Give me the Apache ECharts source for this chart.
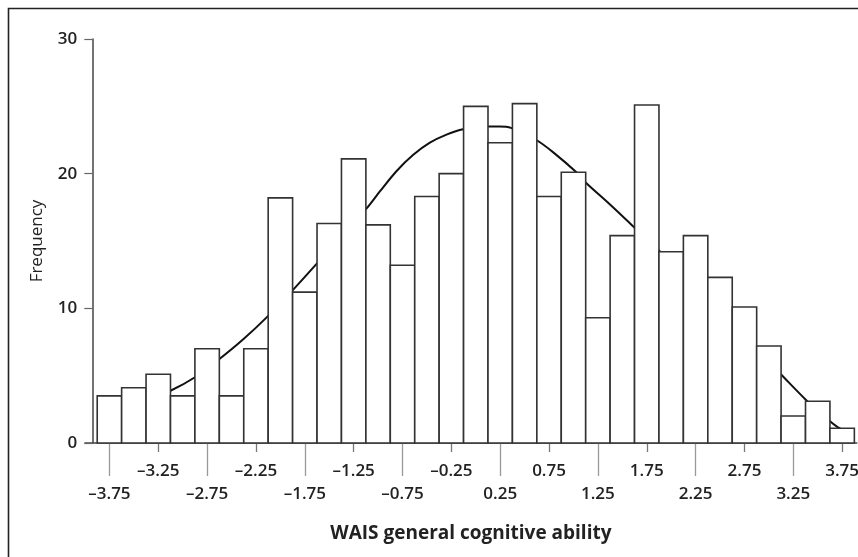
<!DOCTYPE html>
<html>
<head>
<meta charset="utf-8">
<script src="https://cdn.jsdelivr.net/npm/echarts@6/dist/echarts.min.js"></script>
<style>
  html, body { margin: 0; padding: 0; background: #fff; }
  #chart { width: 858px; height: 557px; }
</style>
</head>
<body>
<div id="chart"></div>
<script>
// Histogram bins (centre of each 0.25-wide bin) and their frequencies
const binCenters = [-3.75, -3.5, -3.25, -3.0, -2.75, -2.5, -2.25, -2.0, -1.75, -1.5, -1.25,
  -1.0, -0.75, -0.5, -0.25, 0.0, 0.25, 0.5, 0.75, 1.0, 1.25, 1.5, 1.75, 2.0, 2.25, 2.5,
  2.75, 3.0, 3.25, 3.5, 3.75];
const frequencies = [3.5, 4.1, 5.1, 3.5, 7.0, 3.5, 7.0, 18.2, 11.2, 16.3, 21.1,
  16.2, 13.2, 18.3, 20.0, 25.0, 22.3, 25.2, 18.3, 20.1, 9.3, 15.4, 25.1, 14.2, 15.4, 12.3,
  10.1, 7.2, 2.0, 3.1, 1.1];
const binWidth = 0.25;

// Fitted normal curve, traced point by point (partly hidden behind the bars)
const curveX = [-3.875, -3.625, -3.375, -3.12, -2.87, -2.63, -2.38, -2.13, -1.88, -1.63,
  -1.375, -1.12, -0.98, -0.81, -0.64, -0.47, -0.30, -0.13, 0.12, 0.24, 0.36, 0.62, 0.79,
  1.03, 1.13, 1.36, 1.61, 1.875, 2.125, 2.375, 2.625, 2.875, 3.11, 3.38, 3.61, 3.70, 3.85];
const curveY = [2.0, 2.6, 3.2, 3.9, 4.9, 6.2, 7.7, 9.4, 11.3, 13.3,
  15.4, 17.4, 18.7, 20.2, 21.4, 22.3, 22.9, 23.3, 23.5, 23.5, 23.4, 22.5, 21.6,
  20.1, 19.3, 17.8, 16.1, 14.3, 12.5, 10.6, 8.7, 6.9, 5.2, 3.2, 1.7, 1.2, 0.6];

// Tick labels: long ticks with the lower row, short ticks with the upper row
const lowerTicks = [-3.75, -2.75, -1.75, -0.75, 0.25, 1.25, 2.25, 3.25];
const upperTicks = [-3.25, -2.25, -1.25, -0.25, 0.75, 1.75, 2.75, 3.75];
const yTicks = [0, 10, 20, 30];

const xTitle = 'WAIS general cognitive ability';
const yTitle = 'Frequency';

const INK = '#222';
const fmt = v => (v < 0 ? '\u2013' : '') + Math.abs(v).toFixed(2);

const chart = echarts.init(document.getElementById('chart'), null, { renderer: 'canvas' });

const xMin = -4.0, xMax = 3.9;
const tickFont = { fontFamily: 'Open Sans', fontSize: 17, fontWeight: 600, color: INK };

chart.setOption({
  animation: false,
  backgroundColor: '#fff',
  grid: { left: 85, right: 1.2, top: 39, bottom: 114, containLabel: false, outerBoundsMode: 'none' },
  xAxis: [
    {
      type: 'value', position: 'bottom', min: xMin, max: xMax,
      name: xTitle, nameLocation: 'middle', nameGap: 81,
      nameTextStyle: { fontFamily: 'Open Sans', fontSize: 19, fontWeight: 'bold', color: INK },
      axisLine: { show: true, onZero: false, lineStyle: { color: '#444', width: 1.5 } },
      axisTick: { show: true, customValues: lowerTicks, length: 33, lineStyle: { color: '#999', width: 1.3 } },
      axisLabel: Object.assign({ customValues: lowerTicks, margin: 43, formatter: fmt }, tickFont),
      splitLine: { show: false }
    },
    {
      type: 'value', position: 'bottom', min: xMin, max: xMax,
      axisLine: { show: false, onZero: false },
      axisTick: { show: true, customValues: upperTicks, length: 9, lineStyle: { color: '#777', width: 1.3 } },
      axisLabel: Object.assign({ customValues: upperTicks, margin: 20, formatter: fmt }, tickFont),
      splitLine: { show: false }
    }
  ],
  yAxis: {
    type: 'value', min: 0, max: 30, interval: 10, offset: -7.3,
    name: yTitle, nameLocation: 'middle', nameGap: 47, nameRotate: 90,
    nameTextStyle: { fontFamily: 'Open Sans', fontSize: 17, color: INK },
    axisLine: { show: true, onZero: false, lineStyle: { color: '#444', width: 1.5 } },
    axisTick: { show: true, length: 8, lineStyle: { color: '#666', width: 1.2 } },
    axisLabel: Object.assign({ margin: 15, customValues: yTicks }, tickFont),
    splitLine: { show: false }
  },
  graphic: [{
    type: 'rect', z: 100, silent: true,
    shape: { x: 8.5, y: 8.5, width: 900, height: 600 },
    style: { fill: 'none', stroke: '#222', lineWidth: 1.6 }
  }],
  series: [
    {
      type: 'line', z: 1, xAxisIndex: 0,
      data: curveX.map((x, i) => [x, curveY[i]]),
      smooth: 0.3, showSymbol: false, symbol: 'none',
      lineStyle: { color: '#111', width: 2 }
    },
    {
      type: 'custom', z: 2, xAxisIndex: 0,
      data: binCenters.map((c, i) => [c, frequencies[i]]),
      renderItem: (params, api) => {
        const c = api.value(0);
        const topLeft = api.coord([c - binWidth / 2, api.value(1)]);
        const bottomRight = api.coord([c + binWidth / 2, 0]);
        return {
          type: 'rect',
          shape: {
            x: topLeft[0], y: topLeft[1],
            width: bottomRight[0] - topLeft[0], height: bottomRight[1] - topLeft[1]
          },
          style: { fill: '#fff', stroke: '#333', lineWidth: 1.6 }
        };
      }
    }
  ]
});
</script>
</body>
</html>
